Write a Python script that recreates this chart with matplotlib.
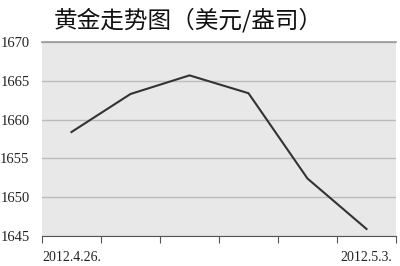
import matplotlib.pyplot as plt
import numpy as np

dates = ["2012.4.26.", "", "", "", "", "2012.5.3."]
prices = [1658.4, 1663.3, 1665.7, 1663.4, 1652.4, 1645.9]
yticks = [1645, 1650, 1655, 1660, 1665, 1670]
title = "黄金走势图（美元/盎司）"

fig = plt.figure(figsize=(4, 2.66), dpi=100)
ax = fig.add_axes([0.105, 0.113, 0.885, 0.729])
ax.set_facecolor("#e8e8e8")

x = np.arange(len(prices))
ax.plot(x, prices, color="#333333", lw=1.5)

ax.set_xlim(-0.5, len(prices) - 0.5)
ax.set_ylim(1645, 1670)
ax.set_yticks(yticks)
ax.set_yticklabels([str(v) for v in yticks], family=["Liberation Serif", "DejaVu Serif"],
                   fontsize=10.5, color="#222222")
ax.tick_params(axis="y", length=0, pad=9)

ax.set_xticks(np.arange(-0.5, len(prices)), [""] * (len(prices) + 1))
ax.set_xticks(x, dates, minor=True, family=["Liberation Serif", "DejaVu Serif"],
              fontsize=10, color="#222222")
ax.tick_params(axis="x", which="major", length=5, color="#555555", direction="out")
ax.tick_params(axis="x", which="minor", length=0, pad=11)

ax.grid(axis="y", color="#bbbbbb", lw=1)
for s in ["left", "right", "top"]:
    ax.spines[s].set_visible(False)
ax.spines["bottom"].set_color("#555555")
ax.axhline(1670, color="#999999", lw=1.2, clip_on=False)

fig.text(0.135, 0.925, title, family=["Noto Sans CJK SC", "DejaVu Sans"],
         fontsize=17, fontweight="medium", va="center", ha="left", color="#111111")

fig.savefig("out.png")
